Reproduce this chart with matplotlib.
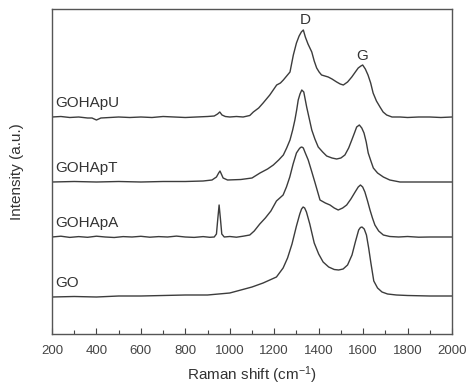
import matplotlib
matplotlib.use("Agg")
import matplotlib.pyplot as plt
from matplotlib.ticker import MultipleLocator

plt.rcParams['font.family'] = ['Liberation Sans', 'DejaVu Sans']
plt.rcParams['mathtext.default'] = 'regular'

# Raman spectra, stacked with vertical offsets (arbitrary units)
go_shift = [200, 300, 400, 500, 600, 700, 800, 900, 950, 1000, 1050, 1100, 1150, 1180,
            1210, 1240, 1260, 1280, 1300, 1315, 1323, 1330, 1337, 1345, 1360, 1380, 1400,
            1420, 1445, 1470, 1490, 1510, 1530, 1550, 1565, 1580, 1588, 1595, 1605, 1615,
            1625, 1635, 1648, 1665, 1685, 1710, 1750, 1800, 1900, 2000]
go_int = [37, 37.5, 37, 38, 38, 38.5, 39, 39, 40, 41, 44, 47, 51, 54,
          57, 66, 76, 90, 108, 120, 125, 127, 126, 122, 110, 91, 80,
          72, 67, 64.5, 64, 65, 69, 79, 92, 104, 106.5, 107, 105, 99,
          86, 71, 53, 46, 42, 40, 39, 38.5, 38, 38]

gohapa_shift = [200, 240, 280, 320, 360, 400, 440, 480, 520, 560, 600, 640, 680, 720,
                760, 800, 840, 880, 910, 930, 940, 946, 952, 958, 964, 975, 1000, 1030,
                1060, 1090, 1110, 1135, 1160, 1185, 1210, 1240, 1255, 1270, 1285, 1300,
                1312, 1318, 1324, 1331, 1338, 1353, 1368, 1384, 1406, 1430, 1451, 1470,
                1488, 1508, 1526, 1545, 1564, 1578, 1588, 1598, 1608, 1620, 1631, 1642,
                1653, 1670, 1691, 1720, 1760, 1800, 1850, 1900, 1950, 2000]
gohapa_int = [97, 97.8, 96.6, 97.4, 96.7, 97.8, 97, 96.5, 97.4, 97, 97.7, 96.8, 97.4, 97,
              97.9, 97, 96.6, 97.4, 96.7, 97, 100, 115, 129, 115, 100, 97, 97.5, 96.8,
              97.8, 99, 103, 110, 116, 123, 133, 139, 147, 157, 170, 181,
              185, 186.5, 187, 186, 182, 174, 163, 151, 134, 131, 129, 126,
              124, 126, 129, 135, 142, 147, 149, 147, 142, 133, 124, 116,
              109, 103, 99, 97.5, 97, 97.5, 96.8, 97, 97, 97]

gohapt_shift = [200, 300, 400, 500, 600, 700, 800, 880, 920, 940, 950, 956, 962, 970,
                990, 1050, 1100, 1136, 1170, 1196, 1220, 1241, 1256, 1271, 1283, 1293,
                1301, 1308, 1316, 1324, 1333, 1346, 1358, 1369, 1383, 1398, 1418, 1436,
                1460, 1481, 1500, 1518, 1535, 1549, 1561, 1571, 1583, 1594, 1604, 1614,
                1623, 1635, 1646, 1665, 1691, 1720, 1766, 1850, 1950, 2000]
gohapt_int = [152, 152.5, 152, 152.5, 152, 152.5, 152.5, 153, 154, 157, 161, 163, 160, 156,
              154, 154.5, 156, 161, 165, 169, 174, 179, 186, 194, 204, 214,
              224, 234, 240, 244, 242, 227, 215, 204, 195, 187, 182, 178,
              176, 175, 176, 179, 186, 194, 201, 207, 209, 206, 201, 192,
              181, 173, 166, 161, 157, 154, 152, 152, 152, 152]

gohapu_shift = [200, 240, 280, 320, 360, 380, 400, 420, 460, 500, 550, 600, 650, 700,
                750, 800, 850, 900, 930, 945, 955, 965, 980, 1000, 1030, 1060, 1090,
                1106, 1130, 1150, 1180, 1211, 1228, 1241, 1256, 1271, 1286, 1300, 1312,
                1322, 1331, 1340, 1352, 1369, 1380, 1391, 1402, 1413, 1428, 1443, 1460,
                1481, 1497, 1511, 1530, 1549, 1565, 1578, 1590, 1598, 1610, 1622, 1634,
                1645, 1660, 1676, 1690, 1706, 1730, 1766, 1800, 1850, 1900, 1950, 2000]
gohapu_int = [217, 217.5, 216.5, 217, 216, 216, 214, 216, 216.5, 217, 216.5, 217, 216.5, 217.5,
              217, 216.5, 217, 217.5, 218, 220, 222, 219, 217.5, 217, 217.5, 217, 218.5,
              222, 226, 231, 239, 249, 251, 254, 258, 262, 279, 291, 298,
              302, 304, 297, 290, 282, 273, 266, 262, 259, 258, 257, 255,
              252, 250, 249, 252, 257, 262, 266, 268, 269, 265, 259, 251,
              241, 233, 227, 222, 219, 217, 217, 216.5, 217, 217, 216.5, 217]

spectra = [
    ('GO', go_shift, go_int, 51),
    ('GOHApA', gohapa_shift, gohapa_int, 111),
    ('GOHApT', gohapt_shift, gohapt_int, 166),
    ('GOHApU', gohapu_shift, gohapu_int, 231),
]

line_color = '#3c3c3c'

fig = plt.figure(figsize=(4.69, 3.85), dpi=100)
ax = fig.add_axes([52 / 469, 1 - 334 / 385, 400 / 469, 325 / 385])

for name, shift, inten, label_y in spectra:
    ax.plot(shift, inten, color=line_color, linewidth=1.0)
    ax.text(213, label_y, name, fontsize=11, color='#333333', va='center', ha='left')

# band labels above the D and G peaks
ax.text(1339, 314, 'D', fontsize=11, color='#333333', ha='center', va='center')
ax.text(1595, 278, 'G', fontsize=11, color='#333333', ha='center', va='center')

ax.set_xlim(200, 2000)
ax.set_ylim(0, 325)
ax.xaxis.set_major_locator(MultipleLocator(200))
ax.xaxis.set_minor_locator(MultipleLocator(100))
ax.tick_params(axis='x', which='both', direction='in', top=False, labelsize=9.5,
               colors='#444444', pad=8)
ax.tick_params(axis='x', which='major', length=4, width=0.8)
ax.tick_params(axis='x', which='minor', length=3, width=0.8)
ax.set_yticks([])

for spine in ax.spines.values():
    spine.set_color('#555555')
    spine.set_linewidth(1.0)

ax.set_xlabel('Raman shift (cm$^{-1}$)', fontsize=11, color='#333333', labelpad=5)
ax.set_ylabel('Intensity (a.u.)', fontsize=11, color='#333333', labelpad=20)

fig.savefig('out.png', dpi=100)
